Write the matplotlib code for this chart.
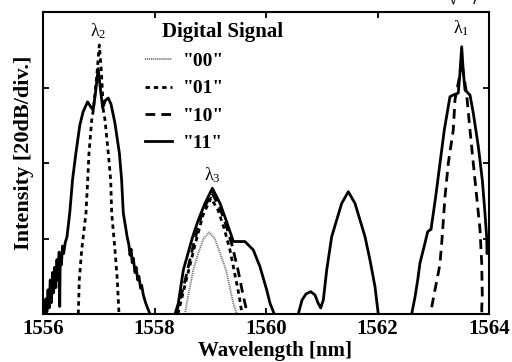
import numpy as np
import matplotlib
matplotlib.use('Agg')
import matplotlib.pyplot as plt

plt.rcParams['font.family'] = ['Liberation Serif', 'DejaVu Serif']
plt.rcParams['font.weight'] = 'bold'
plt.rcParams['axes.labelweight'] = 'bold'

nan = np.nan

# "00": only lambda3
wl_00 = [1558.547, 1558.578, 1558.696, 1558.786, 1558.88, 1558.983, 1559.08, 1559.175, 1559.283, 1559.413, 1559.474]
int_00 = [0.0, 0.142, 0.583, 0.808, 1.0, 1.08, 1.0, 0.808, 0.583, 0.142, 0.01]

# "01": lambda2 + lambda3
wl_01 = [1556.633, 1556.651, 1556.694, 1556.771, 1556.802, 1556.825, 1556.874, 1556.902, 1556.969, 1557.010,
         1557.049, 1557.082, 1557.112, 1557.171, 1557.214, 1557.232, 1557.291, 1557.333, 1557.363, nan,
         1558.42, 1558.547, 1558.726, 1558.870, 1559.013, 1559.139, 1559.247, 1559.354, 1559.444, 1559.516, 1559.570]
int_01 = [0.0, 0.45, 0.848, 1.338, 1.775, 2.132, 2.57, 2.70, 3.19, 3.563,
          3.19, 2.70, 2.57, 2.132, 1.775, 1.338, 0.848, 0.45, 0.0, nan,
          0.0, 0.384, 0.914, 1.311, 1.536, 1.377, 1.139, 0.848, 0.517, 0.252, 0.0]

# "10": lambda3 + lambda1
wl_10 = [1558.386, 1558.529, 1558.709, 1558.870, 1559.031, 1559.175, 1559.283, 1559.390, 1559.498, 1559.570, 1559.641, 1559.659, nan,
         1562.972, 1563.031, 1563.103, 1563.121, 1563.152, 1563.211, 1563.270, 1563.359, 1563.390, 1563.46, 1563.507,
         1563.56, 1563.600, 1563.659, 1563.718, 1563.779, 1563.839, 1563.869, 1563.880, 1563.870, 1563.870]
int_10 = [0.0, 0.384, 0.947, 1.377, 1.603, 1.40, 1.175, 0.914, 0.583, 0.318, 0.08, 0.0, nan,
          0.09, 0.32, 0.59, 0.675, 0.94, 1.555, 1.997, 2.437, 2.84, 3.1, 3.35,
          3.1, 2.90, 2.437, 1.997, 1.555, 1.113, 0.675, 0.225, 0.09, 0.0]

# "11": lambda2 + lambda3 + mixing products + lambda1
wl_11 = [1556.03, 1556.05, 1556.07, 1556.09, 1556.11, 1556.13, 1556.15, 1556.17, 1556.19, 1556.21, 1556.23, 1556.25,
         1556.27, 1556.29, 1556.30, 1556.31, 1556.33, 1556.35, 1556.37, 1556.40, 1556.43, 1556.48, 1556.53, 1556.59,
         1556.66, 1556.72, 1556.80, 1556.86, 1556.90, 1556.94, 1556.99, 1557.03, 1557.07, 1557.12, 1557.17, 1557.22,
         1557.29, 1557.37, 1557.41, 1557.44, 1557.51, 1557.54, 1557.56, 1557.58, 1557.60, 1557.62, 1557.65, 1557.67,
         1557.70, 1557.72, 1557.75, 1557.77, 1557.80, 1557.84, 1557.88, 1557.92, nan,
         1558.368, 1558.427, 1558.517, 1558.685, 1558.786, 1558.906, 1559.037, 1559.175, 1559.283, 1559.385,
         1559.413, 1559.50, 1559.623, 1559.772, 1559.892, 1560.013, 1560.072, 1560.143, nan,
         1560.579, 1560.646, 1560.717, 1560.802, 1560.879, 1560.933, 1560.981, 1561.028, 1561.089, 1561.178,
         1561.268, 1561.358, 1561.476, 1561.596, 1561.686, 1561.776, 1561.865, 1561.955, 1562.014, nan,
         1562.613, 1562.673, 1562.721, 1562.762, 1562.852, 1562.90, 1562.942, 1562.96, 1563.044, 1563.121,
         1563.198, 1563.300, 1563.359, 1563.449, 1563.48, 1563.51, 1563.54, 1563.57, 1563.659, 1563.718,
         1563.808, 1563.880, 1563.928, 1563.958, 1563.965, 1563.985, 1564.02]
int_11 = [0.00, 0.20, 0.03, 0.32, 0.08, 0.45, 0.15, 0.55, 0.28, 0.62, 0.35, 0.72,
          0.45, 0.82, 0.10, 0.80, 0.65, 0.90, 0.80, 0.95, 1.02, 1.34, 1.78, 2.13,
          2.50, 2.68, 2.81, 2.74, 2.70, 2.92, 3.25, 2.98, 2.73, 2.83, 2.86, 2.78,
          2.53, 2.13, 1.78, 1.34, 1.02, 0.92, 0.78, 0.86, 0.68, 0.74, 0.55, 0.62,
          0.45, 0.50, 0.34, 0.38, 0.25, 0.15, 0.07, 0.00, nan,
          0.0, 0.142, 0.583, 1.024, 1.245, 1.466, 1.665, 1.466, 1.245, 1.024,
          0.96, 0.96, 0.96, 0.848, 0.626, 0.318, 0.142, 0.01, nan,
          0.0, 0.185, 0.265, 0.296, 0.252, 0.146, 0.08, 0.185, 0.583, 1.024,
          1.245, 1.466, 1.62, 1.466, 1.245, 1.024, 0.715, 0.362, 0.0, nan,
          0.0, 0.225, 0.45, 0.675, 0.94, 1.09, 1.113, 1.12, 1.555, 1.997,
          2.437, 2.878, 2.90, 2.927, 3.2, 3.54, 3.2, 2.967, 2.90, 2.662,
          2.22, 1.775, 1.333, 1.02, 0.80, 0.92, 0.98]

signal_labels = ['"00"', '"01"', '"10"', '"11"']
peak_names = [r'$\mathregular{\lambda_2}$', r'$\mathregular{\lambda_1}$', r'$\mathregular{\lambda_3}$']
peak_pos = [(1556.99, 3.74), (1563.51, 3.79), (1559.03, 1.84)]

fig = plt.figure(figsize=(5.12, 3.62), dpi=100)
ax = fig.add_axes([43 / 512, 1 - 314 / 362, 446 / 512, 302 / 362])

ax.plot(wl_00, int_00, color='#666666', lw=1.4, ls=(0, (0.5, 0.5)), label=signal_labels[0])
ax.plot(wl_01, int_01, color='black', lw=2.0, ls=(0, (1.6, 1.4)), label=signal_labels[1])
ax.plot(wl_10, int_10, color='black', lw=2.0, ls=(0, (3.5, 2.2)), label=signal_labels[2])
ax.plot(wl_11, int_11, color='black', lw=2.0, label=signal_labels[3])

for name, (px, py) in zip(peak_names, peak_pos):
    ax.text(px, py, name, ha='center', va='center', fontsize=13, fontweight='normal')

ax.text(0.4025, 0.934, 'Digital Signal', transform=ax.transAxes, ha='center', va='center', fontsize=15)
ax.legend(loc='upper left', bbox_to_anchor=(0.2287, 0.866), frameon=False, fontsize=14,
          handlelength=1.4, handletextpad=0.55, labelspacing=0.5, borderpad=0, borderaxespad=0)

ax.set_xlim(1556, 1564)
ax.set_ylim(0, 4)
ax.set_xticks([1556, 1558, 1560, 1562, 1564])
ax.set_yticks([1, 2, 3])
ax.set_yticklabels([])
ax.tick_params(direction='in', top=True, right=True, length=4, width=1.3, labelsize=15)
for s in ax.spines.values():
    s.set_linewidth(1.5)

ax.set_xlabel('Wavelength [nm]', fontsize=15, fontweight='bold')
ax.set_ylabel('Intensity [20dB/div.]', fontsize=16, fontweight='bold')
ax.xaxis.set_label_coords(0.521, -0.089)
ax.yaxis.set_label_coords(-0.02, 0.533)

fig.text(0.905, 1.0, '\u221a   /', ha='center', va='center', fontsize=14)

fig.savefig('out.png', dpi=100)
